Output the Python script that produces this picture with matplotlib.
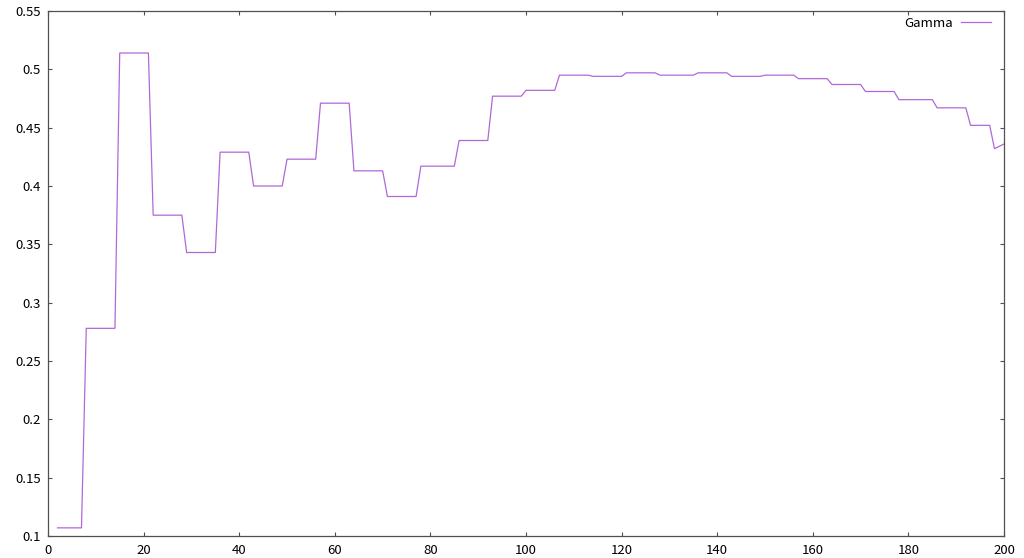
import matplotlib
matplotlib.use("Agg")
import matplotlib.pyplot as plt

# Vertices of the Gamma line (x, value)
x_vals = [2, 7, 8, 14, 15, 21, 22, 28, 29, 35, 36, 42, 43, 49, 50, 56, 57, 63,
          64, 70, 71, 77, 78, 85, 86, 92, 93, 99, 100, 106, 107, 113, 114, 120,
          121, 127, 128, 135, 136, 142, 143, 149, 150, 156, 157, 163, 164, 170,
          171, 177, 178, 185, 186, 192, 193, 197, 198, 200]
gamma = [0.107, 0.107, 0.278, 0.278, 0.514, 0.514, 0.375, 0.375, 0.343, 0.343,
         0.429, 0.429, 0.400, 0.400, 0.423, 0.423, 0.471, 0.471, 0.413, 0.413,
         0.391, 0.391, 0.417, 0.417, 0.439, 0.439, 0.477, 0.477, 0.482, 0.482,
         0.495, 0.495, 0.494, 0.494, 0.497, 0.497, 0.495, 0.495, 0.497, 0.497,
         0.494, 0.494, 0.495, 0.495, 0.492, 0.492, 0.487, 0.487, 0.481, 0.481,
         0.474, 0.474, 0.467, 0.467, 0.452, 0.452, 0.432, 0.436]

x_ticks = list(range(0, 201, 20))
y_ticks = [0.1, 0.15, 0.2, 0.25, 0.3, 0.35, 0.4, 0.45, 0.5, 0.55]
y_labels = ["0.1", "0.15", "0.2", "0.25", "0.3", "0.35", "0.4", "0.45", "0.5", "0.55"]

plt.rcParams['font.family'] = ['Noto Sans CJK JP', 'DejaVu Sans']

fig = plt.figure(figsize=(10.24, 5.58), dpi=100)
ax = fig.add_axes([0.0469, 0.0394, 0.9336, 0.9409])

ax.plot(x_vals, gamma, color='#b068d8', linewidth=0.9, label='Gamma')

ax.set_xlim(0, 200)
ax.set_ylim(0.1, 0.55)
ax.set_xticks(x_ticks)
ax.set_yticks(y_ticks)
ax.set_yticklabels(y_labels)

for s in ax.spines.values():
    s.set_color('#505050')
    s.set_linewidth(0.9)
ax.tick_params(direction='in', length=3, width=0.8, color='#505050',
               top=True, right=True, labelsize=9.5, labelcolor='black')
ax.tick_params(axis='x', pad=6)
ax.tick_params(axis='y', pad=5)

ax.legend(loc='upper right', bbox_to_anchor=(0.996, 1.006), frameon=False,
          markerfirst=False, fontsize=9.5, handlelength=2.3, handletextpad=0.6,
          borderaxespad=0.3)

fig.savefig('out.png', dpi=100)
